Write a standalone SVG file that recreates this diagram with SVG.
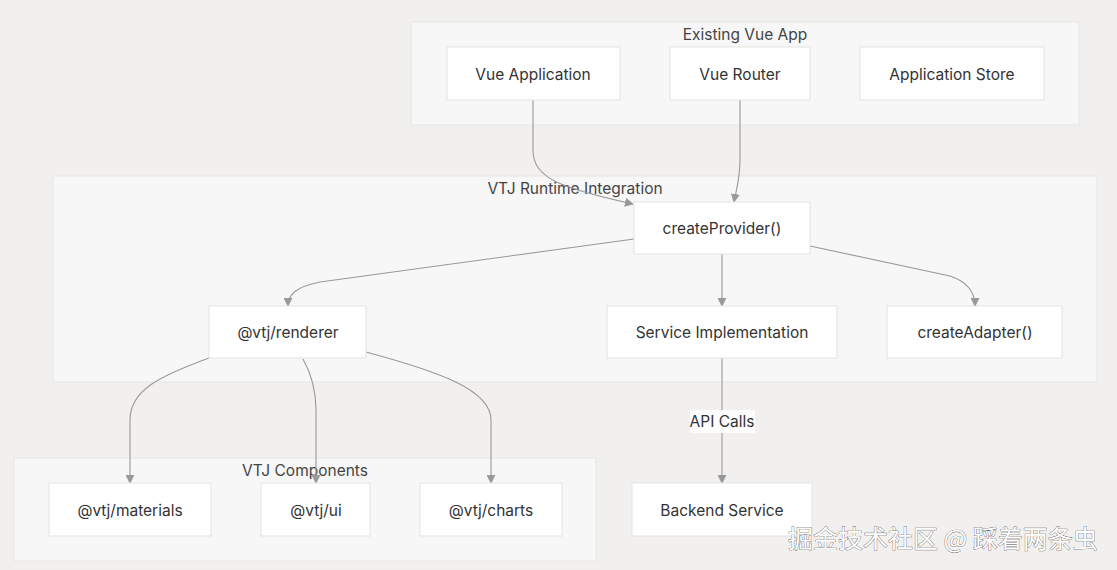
<svg xmlns="http://www.w3.org/2000/svg" width="1117" height="570" viewBox="0 0 1117 570">
<defs>
<style>
.cl{fill:#f7f7f7;stroke:#e6e6e6;stroke-width:1}
.nd{fill:#ffffff;stroke:#e3e3e3;stroke-width:1}
.t{font-family:Inter,"Liberation Sans",sans-serif;font-size:15.5px;fill:#333;text-anchor:middle;dominant-baseline:central}
.ct{font-family:Inter,"Liberation Sans",sans-serif;font-size:15.5px;fill:#444;text-anchor:middle;dominant-baseline:central}
.e{fill:none;stroke:#999;stroke-width:1.1}
.wm{font-family:"Noto Sans CJK SC",sans-serif;font-size:25px;fill:#fff;stroke:#555;stroke-width:0.7;paint-order:stroke}
</style>
<marker id="ah" viewBox="0 0 10 10" refX="9" refY="5" markerWidth="9" markerHeight="9" markerUnits="userSpaceOnUse" orient="auto">
<path d="M0,0 L10,5 L0,10 z" fill="#999"/>
</marker>
</defs>
<rect x="0" y="0" width="1117" height="570" fill="#f1f0ef"/>
<g id="cluster-existing">
<rect class="cl" x="411" y="22" width="668" height="103"/>
<text class="ct" x="745" y="34">Existing Vue App</text>
</g>
<g id="cluster-runtime">
<rect class="cl" x="53" y="176" width="1044" height="206"/>
<text class="ct" x="575" y="188">VTJ Runtime Integration</text>
</g>
<g id="cluster-components">
<rect class="cl" x="14" y="458" width="582" height="103"/>
<text class="ct" x="305" y="470">VTJ Components</text>
</g>
<g id="connectors">
<path class="e" d="M533,100 L533,150 C533,178 560,188 633,204" marker-end="url(#ah)"/>
<path class="e" d="M740,100 L740,160 C740,180 736,190 734,202" marker-end="url(#ah)"/>
<path class="e" d="M634,239 L320,282 C295,287 288,295 288,306" marker-end="url(#ah)"/>
<path class="e" d="M722,254 L722,306" marker-end="url(#ah)"/>
<path class="e" d="M810,246 L950,276 C968,282 975,292 975,306" marker-end="url(#ah)"/>
<path class="e" d="M209,358 C160,376 130,390 130,420 L130,483" marker-end="url(#ah)"/>
<path class="e" d="M303,359 C312,375 316,390 316,410 L316,483" marker-end="url(#ah)"/>
<path class="e" d="M366,352 C440,372 491,390 491,420 L491,483" marker-end="url(#ah)"/>
<path class="e" d="M722,358 L722,483" marker-end="url(#ah)"/>
<rect x="690" y="410" width="65" height="23" fill="#ffffff" opacity="0.85"/>
<text class="t" x="722" y="421">API Calls</text>
</g>
<g id="n-vueapp"><rect class="nd" x="447" y="47" width="173" height="53"/><text class="t" x="533" y="74">Vue Application</text></g>
<g id="n-router"><rect class="nd" x="670" y="47" width="140" height="53"/><text class="t" x="740" y="74">Vue Router</text></g>
<g id="n-store"><rect class="nd" x="860" y="47" width="184" height="53"/><text class="t" x="952" y="74">Application Store</text></g>
<g id="n-provider"><rect class="nd" x="634" y="202" width="176" height="52"/><text class="t" x="722" y="228">createProvider()</text></g>
<g id="n-renderer"><rect class="nd" x="209" y="306" width="157" height="52"/><text class="t" x="288" y="332">@vtj/renderer</text></g>
<g id="n-service"><rect class="nd" x="607" y="306" width="230" height="52"/><text class="t" x="722" y="332">Service Implementation</text></g>
<g id="n-adapter"><rect class="nd" x="887" y="306" width="175" height="52"/><text class="t" x="975" y="332">createAdapter()</text></g>
<g id="n-materials"><rect class="nd" x="49" y="483" width="162" height="53"/><text class="t" x="130" y="510">@vtj/materials</text></g>
<g id="n-ui"><rect class="nd" x="261" y="483" width="109" height="53"/><text class="t" x="316" y="510">@vtj/ui</text></g>
<g id="n-charts"><rect class="nd" x="420" y="483" width="142" height="53"/><text class="t" x="491" y="510">@vtj/charts</text></g>
<g id="n-backend"><rect class="nd" x="632" y="483" width="180" height="53"/><text class="t" x="722" y="510">Backend Service</text></g>
<text class="wm" x="788" y="548">掘金技术社区 @ 踩着两条虫</text>
</svg>
